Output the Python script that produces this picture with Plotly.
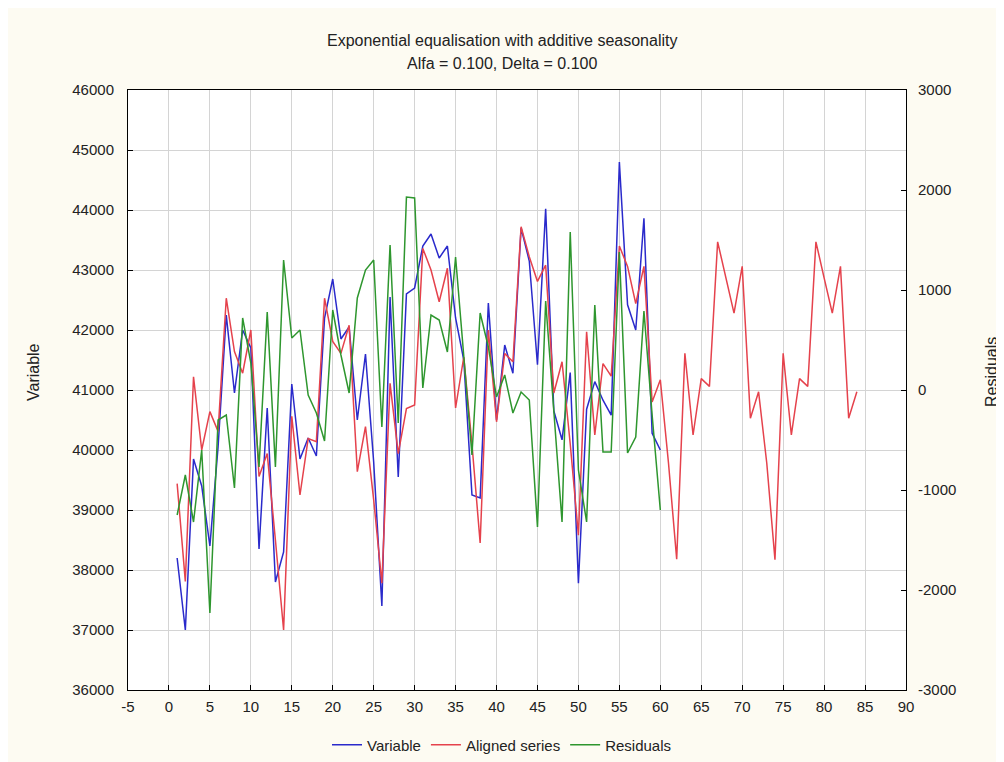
import plotly.graph_objects as go

x_obs = list(range(1, 61))
x_fc = list(range(1, 85))

variable = [38200, 37000, 39850, 39400, 38400, 40050, 42250, 40950, 42000, 41700,
            38350, 40700, 37800, 38300, 41100, 39850, 40200, 39900, 42200, 42850,
            41850, 42050, 40500, 41600, 39800, 37400, 42550, 39550, 42600, 42700,
            43400, 43600, 43200, 43400, 42200, 41500, 39250, 39200, 42450, 40500,
            41750, 41280, 43700, 43150, 41420, 44020, 40650, 40170, 41290, 37780,
            40680, 41140, 40830, 40580, 44800, 42420, 42000, 43860, 40280, 40000]

aligned = [39440, 37810, 41220, 40000, 40640, 40310, 42530, 41640, 41280, 42000,
           39560, 39940, 38500, 37000, 40560, 39250, 40190, 40140, 42530, 41810,
           41610, 42080, 39640, 40390, 39170, 37780, 41110, 39940, 40690, 40750,
           43360, 43000, 42470, 43030, 40700, 41550, 40100, 38450, 42000, 40470,
           41610, 41470, 43720, 43220, 42810, 43080, 40950, 41470, 40100, 38580,
           41970, 40250, 41440, 41230, 43400, 43060, 42440, 43060, 40800, 41170,
           39780, 38180, 41610, 40250, 41190, 41060, 43470, 42870, 42280, 43060,
           40530, 40970, 39780, 38170, 41610, 40250, 41190, 41060, 43470, 42870,
           42280, 43060, 40530, 40970]

residuals = [-1250, -850, -1320, -600, -2230, -300, -250, -980, 720, 270,
             -770, 780, -770, 1300, 520, 600, -50, -230, -510, 800,
             350, -30, 920, 1200, 1300, -370, 1450, -330, 1930, 1920,
             20, 750, 700, 380, 1330, 300, -650, 770, 430, -70,
             150, -230, -20, -100, -1370, 890, -250, -1320, 1580, -800,
             -1320, 850, -620, -620, 1380, -630, -470, 790, -250, -1200]

x_ticks = list(range(-5, 91, 5))
y_ticks = list(range(36000, 46001, 1000))
y2_ticks = list(range(-3000, 3001, 1000))

FONT = "Liberation Sans, Arial, sans-serif"
BG = "#fdfbf2"

OFF = 8  # page body margin
W, H = 1004 - OFF, 762 - OFF
ML, MR, MT, MB = 128 - OFF, W - (906 - OFF), 90 - OFF, H - (690 - OFF)
plot_w = W - ML - MR
plot_h = H - MT - MB

fig = go.Figure()
fig.add_trace(go.Scatter(x=x_obs, y=variable, mode="lines", name="Variable",
                         line=dict(color="#2a2acb", width=1.5)))
fig.add_trace(go.Scatter(x=x_fc, y=aligned, mode="lines", name="Aligned series",
                         line=dict(color="#e5424c", width=1.5)))
fig.add_trace(go.Scatter(x=x_obs, y=residuals, mode="lines", name="Residuals",
                         line=dict(color="#2e962e", width=1.5), yaxis="y2"))


def px_x(p):
    return (p - OFF - ML) / plot_w


def px_y(p):
    return (H - MB - (p - OFF)) / plot_h


annotations = [
    dict(text="Exponential equalisation with additive seasonality", x=px_x(502), y=px_y(40),
         xref="paper", yref="paper", showarrow=False, xanchor="center", yanchor="middle",
         font=dict(size=16)),
    dict(text="Alfa = 0.100, Delta = 0.100", x=px_x(502), y=px_y(63),
         xref="paper", yref="paper", showarrow=False, xanchor="center", yanchor="middle",
         font=dict(size=16)),
    dict(text="Variable", x=px_x(33), y=px_y(372), xref="paper", yref="paper",
         showarrow=False, textangle=-90, xanchor="center", yanchor="middle",
         font=dict(size=16)),
    dict(text="Residuals", x=px_x(991), y=px_y(372), xref="paper", yref="paper",
         showarrow=False, textangle=-90, xanchor="center", yanchor="middle",
         font=dict(size=16)),
]

common = dict(showline=True, linecolor="black", linewidth=1, automargin=False,
              ticks="inside", ticklen=5, tickcolor="black", zeroline=False,
              tickfont=dict(size=15))

fig.update_layout(
    width=W, height=H,
    margin=dict(l=ML, r=MR, t=MT, b=MB, autoexpand=False),
    paper_bgcolor=BG, plot_bgcolor="white",
    font=dict(family=FONT, size=15, color="#222222"),
    showlegend=True,
    legend=dict(orientation="h", x=(502 - OFF) / W, xref="container", xanchor="center",
                y=1 - (745 - OFF) / H, yref="container", yanchor="middle",
                bgcolor="rgba(0,0,0,0)", font=dict(size=15), itemwidth=30,
                tracegroupgap=0),
    xaxis=dict(range=[-5, 90], tickvals=x_ticks, ticktext=[str(v) for v in x_ticks],
               showgrid=True, gridcolor="#d4d4d4", gridwidth=1, mirror=True,
               ticklabelstandoff=3, **common),
    yaxis=dict(range=[36000, 46000], tickvals=y_ticks, ticktext=[str(v) for v in y_ticks],
               showgrid=True, gridcolor="#d4d4d4", gridwidth=1, mirror=False,
               ticklabelstandoff=10, **common),
    yaxis2=dict(range=[-3000, 3000], tickvals=y2_ticks, ticktext=[str(v) for v in y2_ticks],
                overlaying="y", side="right", showgrid=False,
                ticklabelstandoff=8, **common),
    annotations=annotations,
)

fig.write_html("out.html")
